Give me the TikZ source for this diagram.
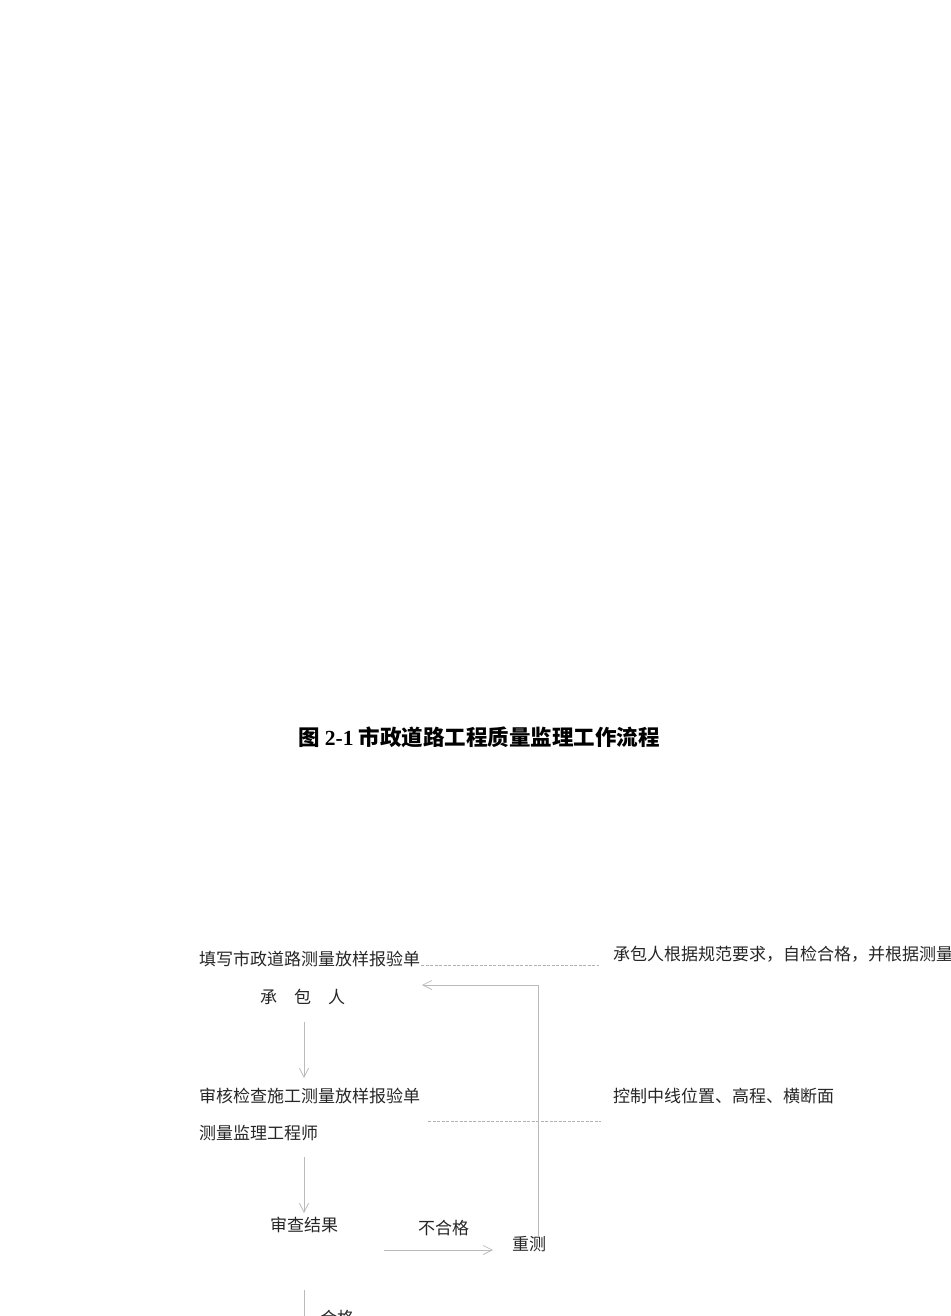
\documentclass[tikz,border=0pt]{standalone}
\usepackage{fontspec}
\setmainfont{Liberation Serif}
\newfontfamily\cjk{Noto Sans CJK SC}
\usetikzlibrary{arrows.meta}
\tikzset{
  txt/.style={anchor=west, inner sep=0pt, text=black!85, font=\cjk\fontsize{17}{20}\selectfont},
  flow/.style={draw=black!27, line width=0.7pt, -{Straight Barb[length=9pt,width=9pt]}},
  guide/.style={draw=black!30, line width=0.6pt, dash pattern=on 3pt off 1.5pt},
}
\begin{document}
\begin{tikzpicture}[x=1pt,y=-1pt]
    \useasboundingbox (0,0) rectangle (950,1316);
    \node (title) at (479,737) {\bfseries\fontsize{21.5}{26}\selectfont{\cjk 图} 2-1 {\cjk 市政道路工程质量监理工作流程}};
    %% contractor
    \node[txt] (fill) at (199,959) {填写市政道路测量放样报验单};
    \node[txt] (who1) at (260,997) {承\hspace{17pt}包\hspace{17pt}人};
    \node[txt] (note1) at (613,954) {承包人根据规范要求，自检合格，并根据测量};
    \coordinate (g1a) at (421,965); \coordinate (g1b) at (599,965);
    \draw[guide] (g1a) -- (g1b);
    %% engineer
    \node[txt] (check) at (199,1096) {审核检查施工测量放样报验单};
    \node[txt] (who2) at (199,1133) {测量监理工程师};
    \node[txt] (note2) at (613,1096) {控制中线位置、高程、横断面};
    \coordinate (g2a) at (428,1121); \coordinate (g2b) at (601,1121);
    \draw[guide] (g2a) -- (g2b);
    %% result
    \node[txt] (result) at (270,1225) {审查结果};
    \node[txt] (fail) at (418,1228) {不合格};
    \node[txt] (retest) at (512,1244) {重测};
    \node[txt] (pass) at (320,1318) {合格};
    %% arrows
    \coordinate (a1) at (304,1022); \coordinate (a2) at (304,1078);
    \draw[flow] (a1) -- (a2);
    \coordinate (b1) at (304,1157); \coordinate (b2) at (304,1213);
    \draw[flow] (b1) -- (b2);
    \coordinate (c1) at (384,1250); \coordinate (c2) at (493,1250);
    \draw[flow] (c1) -- (c2);
    \coordinate (up) at (538,1236); \coordinate (back) at (422,985);
    \draw[flow] (up) |- (back);
    \coordinate (d1) at (304,1290); \coordinate (d2) at (304,1316);
    \draw[draw=black!27, line width=0.7pt] (d1) -- (d2);
\end{tikzpicture}
\end{document}
